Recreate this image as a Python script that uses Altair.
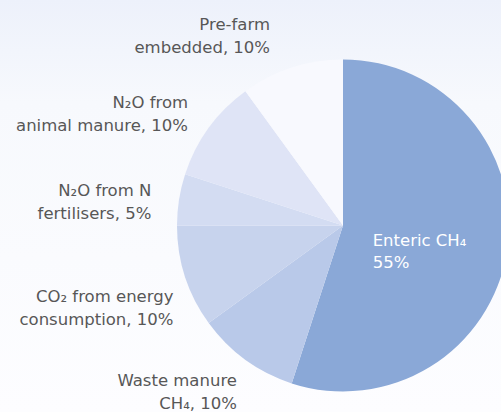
import altair as alt
import pandas as pd

categories = ["Enteric CH₄", "Waste manure CH₄", "CO₂ from energy consumption",
              "N₂O from N fertilisers", "N₂O from animal manure", "Pre-farm embedded"]
shares = [55, 10, 10, 5, 10, 10]
label_texts = ["Enteric CH₄\n55%", "Waste manure\nCH₄, 10%", "CO₂ from energy\nconsumption, 10%",
               "N₂O from N\nfertilisers, 5%", "N₂O from\nanimal manure, 10%", "Pre-farm\nembedded, 10%"]
colors = ["#8aa8d7", "#b9c9e9", "#c7d3ed", "#d3dcf2", "#dfe4f6", "#f8f9fe"]

df = pd.DataFrame({
    "category": categories,
    "share": shares,
    "label": label_texts,
    "order": list(range(len(categories))),
})

W, H = 501, 412
CX, CY, R = 343, 225.5, 166
FONT = "DejaVu Sans"
FS = 16.5

# label nudges (layout only), keyed by slice index
nudges = {1: (8, -1), 2: (15, 12), 3: (0, -4), 4: (2, -8), 5: (-13, -15.5)}

bg = alt.Chart(alt.Data(values=[{}])).mark_rect(
    fill=alt.Gradient(gradient="linear",
                      stops=[alt.GradientStop(color="#edf1fb", offset=0),
                             alt.GradientStop(color="#f7f9fd", offset=0.25),
                             alt.GradientStop(color="#fdfdff", offset=1)],
                      x1=0, x2=0, y1=0, y2=1)
).encode(x=alt.value(0), x2=alt.value(W), y=alt.value(0), y2=alt.value(H))

base = alt.Chart(df).encode(
    theta=alt.Theta("share:Q", stack=True),
    order=alt.Order("order:Q"),
)

arcs = base.mark_arc(outerRadius=R, stroke=None).encode(
    color=alt.Color("category:N", scale=alt.Scale(domain=categories, range=colors), legend=None),
    x=alt.value(CX), y=alt.value(CY),
)

layers = [bg, arcs]
for idx, (ddx, ddy) in nudges.items():
    layers.append(base.mark_text(
        radius=R + 28, align="right", baseline="middle", lineBreak="\n",
        font=FONT, fontSize=FS, color="#575757", lineHeight=23, dx=ddx, dy=ddy,
    ).encode(
        text=alt.condition(alt.datum.order == idx, "label:N", alt.value("")),
        x=alt.value(CX), y=alt.value(CY),
    ))

inner = base.mark_text(
    radius=30, align="left", baseline="middle", lineBreak="\n",
    font=FONT, fontSize=FS, color="#ffffff", lineHeight=22, dy=11,
).encode(
    text=alt.condition(alt.datum.order == 0, "label:N", alt.value("")),
    x=alt.value(CX), y=alt.value(CY),
)
layers.append(inner)

chart = alt.layer(*layers).properties(
    width=W, height=H, padding=0, autosize=alt.AutoSizeParams(type="none"),
    background="#fbfcff",
).configure_view(stroke=None)

chart.save("out.html", embed_options={"renderer": "svg", "actions": False})
